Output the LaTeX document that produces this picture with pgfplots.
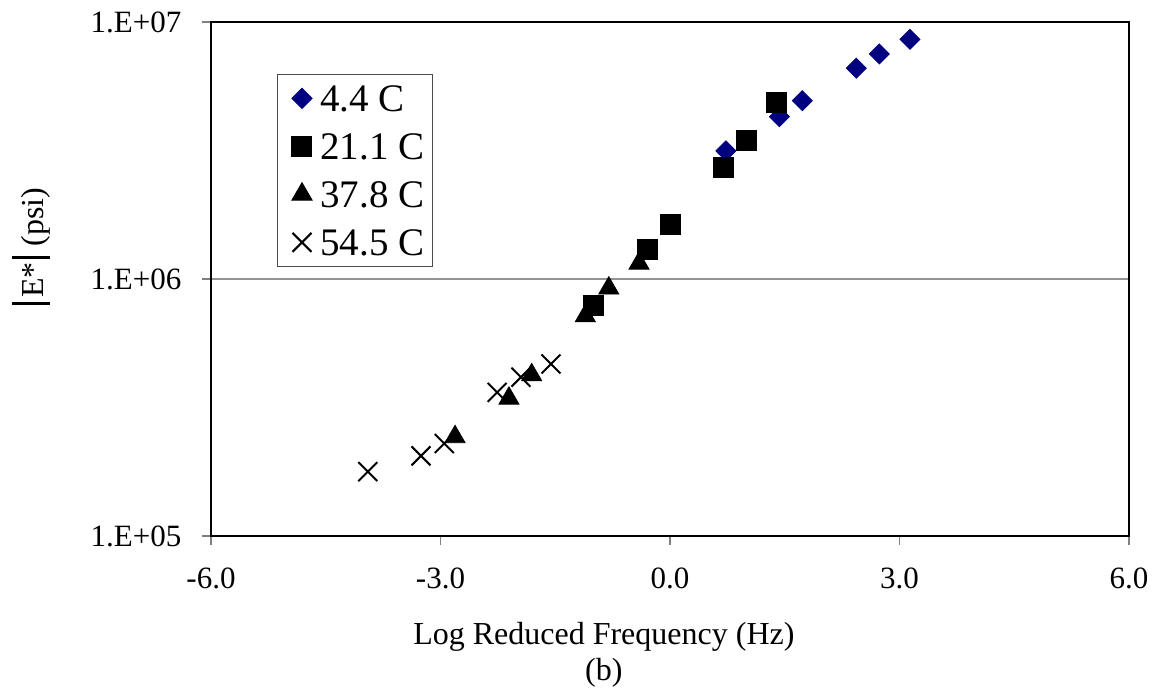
\documentclass[border=0pt]{standalone}
\usepackage{pgfplots}
\pgfplotsset{compat=1.18}
\usepackage{fontspec}
\setmainfont{Liberation Serif}
\definecolor{navy}{RGB}{0,0,128}
\begin{document}
\fontsize{15.5pt}{18pt}\selectfont
\begin{tikzpicture}
\begin{axis}[
  scale only axis,
  width=459pt, height=257pt,
  ymode=log,
  xmin=-6, xmax=6, ymin=1e5, ymax=1e7,
  xtick={-6,-3,0,3,6},
  ytick={1e5,1e6,1e7},
  yticklabels={1.E+05,1.E+06,1.E+07},
  yminorticks=false, xminorticks=false,
  /pgf/number format/fixed,
  /pgf/number format/fixed zerofill,
  /pgf/number format/precision=1,
  /pgf/number format/assume math mode=true,
  tick align=outside,
  major tick length=4.5pt,
  xtick pos=bottom, ytick pos=left,
  tick style={gray, line width=0.6pt},
  axis line style={black, line width=0.8pt},
  ymajorgrids,
  grid style={gray!85, line width=0.6pt},
  yticklabel style={xshift=-5pt},
  xticklabel style={yshift=-6pt},
  clip=false,
  legend style={at={(0.0719,0.899)}, anchor=north west, draw=gray!60!black, line width=0.5pt,
    font=\fontsize{19.5pt}{22pt}\selectfont, row sep=0pt, inner xsep=0pt, inner ysep=0pt,
    nodes={inner xsep=4pt, inner ysep=3pt, text height=15.4pt, text depth=2.6pt}},
  legend cell align=left,
  legend image code/.code={\path (-12pt,0pt) (5pt,0pt); \draw[mark repeat=2,mark phase=2,#1] plot coordinates {(-6pt,0pt)(0pt,0pt)(3pt,0pt)};},
]
\addplot[only marks, mark=square*, mark size=3.54pt, color=navy, mark options={rotate=45, fill=navy, draw=navy}] coordinates {
(0.73,3.15e6) (1.43,4.28e6) (1.73,4.94e6) (2.435,6.61e6) (2.736,7.51e6) (3.137,8.56e6)
};
\addlegendentry{4.4 C}
\addplot[only marks, mark=square*, mark size=5pt, color=black, mark options={fill=black}] coordinates {
(1.394,4.85e6) (0.998,3.45e6) (0.697,2.71e6) (0.0,1.63e6) (-0.30,1.30e6) (-1.007,7.90e5)
};
\addlegendentry{21.1 C}
\addplot[only marks, mark=triangle*, mark size=5.8pt, color=black, mark options={fill=black}] coordinates {
(-0.405,1.15e6) (-0.80,9.2e5) (-1.107,7.18e5) (-1.808,4.23e5) (-2.105,3.43e5) (-2.81,2.43e5)
};
\addlegendentry{37.8 C}
\addplot[only marks, mark=x, mark size=6.7pt, color=black, mark options={line width=1pt}] coordinates {
(-1.556,4.67e5) (-1.948,4.15e5) (-2.26,3.62e5) (-2.95,2.29e5) (-3.255,2.05e5) (-3.95,1.78e5)
};
\addlegendentry{54.5 C}
\node[font=\fontsize{16pt}{19pt}\selectfont] at (rel axis cs:0.428,-0.1965) {Log Reduced Frequency (Hz)};
\node[font=\fontsize{16pt}{19pt}\selectfont] at (rel axis cs:0.428,-0.2665) {(b)};
\node[rotate=90, font=\fontsize{16pt}{19pt}\selectfont] at (rel axis cs:-0.196,0.564) {\rule[-0.22em]{0.09em}{1.2em}\hspace{0.12em}E*\hspace{0.12em}\rule[-0.22em]{0.09em}{1.2em}\hspace{0.3em}(psi)};
\end{axis}
\pgfresetboundingbox
\path ([shift={(-105.5pt,-77.5pt)}]current axis.south west) rectangle ([shift={(16.5pt,11pt)}]current axis.north east);
\end{tikzpicture}
\end{document}
